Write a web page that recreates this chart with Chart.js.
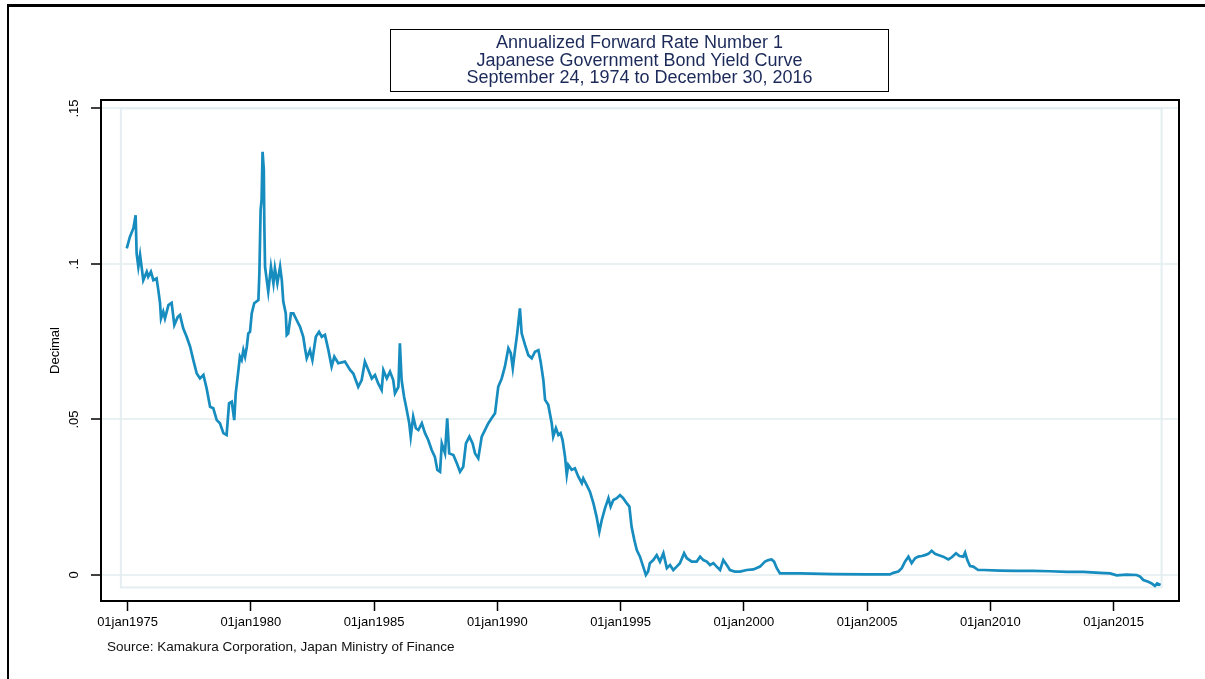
<!DOCTYPE html>
<html lang="en">
    <head>
        <meta charset="UTF-8" />
        <title>Annualized Forward Rate Number 1</title>
        <script src="https://cdn.jsdelivr.net/npm/chart.js"></script>
        <style>
            body { margin: 0; background: #fff; font-family: Arial, "Liberation Sans", sans-serif; }
            #wrap { position: relative; width: 1205px; height: 679px; overflow: hidden; }
            #frame { position: absolute; left: 7px; top: 4px; width: 1300px; height: 800px;
                     border-top: 3px solid #000; border-left: 2px solid #000; }
            #title { position: absolute; left: 390px; top: 29px; width: 499px; height: 63px;
                     border: 1.5px solid #000; text-align: center; color: #1c2a5a;
                     font-size: 18px; line-height: 17.5px; padding-top: 4px; box-sizing: border-box; }
            #source { position: absolute; left: 107px; top: 639px; font-size: 13.5px; color: #111; }
            canvas { position: absolute; left: 0; top: 0; }
        </style>
    </head>
    <body>
        <div id="wrap">
            <div id="frame"></div>
            <canvas id="chart" width="1205" height="679"></canvas>
            <div id="title">Annualized Forward Rate Number 1<br />Japanese Government Bond Yield Curve<br />September 24, 1974 to December 30, 2016</div>
            <div id="source">Source: Kamakura Corporation, Japan Ministry of Finance</div>
        </div>
        <script>
            // decimal years
            const years = [
                1974.97,1975.10,1975.24,1975.33,1975.37,1975.44,1975.51,1975.58,1975.64,1975.78,
                1975.84,1975.95,1976.05,1976.18,1976.25,1976.32,1976.36,1976.45,1976.52,1976.66,
                1976.79,1976.90,1977.04,1977.13,1977.26,1977.40,1977.54,1977.67,1977.81,1977.94,
                1978.08,1978.21,1978.35,1978.48,1978.62,1978.75,1978.89,1979.02,1979.12,1979.23,
                1979.33,1979.39,1979.50,1979.56,1979.63,1979.70,1979.77,1979.84,1979.90,1979.97,
                1980.04,1980.14,1980.31,1980.35,1980.40,1980.44,1980.48,1980.53,1980.55,1980.58,
                1980.65,1980.71,1980.82,1980.92,1980.98,1981.08,1981.19,1981.26,1981.32,1981.42,
                1981.46,1981.52,1981.63,1981.73,1981.86,1982.00,1982.13,1982.20,1982.27,1982.40,
                1982.50,1982.64,1982.77,1982.88,1983.01,1983.15,1983.28,1983.39,
                1983.55,1983.82,1984.03,1984.16,1984.36,1984.50,1984.63,1984.77,1984.91,1985.04,
                1985.17,1985.31,1985.38,1985.52,1985.65,1985.78,1985.85,1985.99,1986.05,1986.12,
                1986.22,1986.33,1986.43,1986.49,1986.59,1986.70,1986.80,1986.94,1987.07,1987.20,
                1987.34,1987.47,1987.57,1987.68,1987.75,1987.88,1987.97,1988.05,1988.22,1988.36,
                1988.49,1988.62,1988.73,1988.87,1989.00,1989.10,1989.23,1989.37,1989.50,1989.64,
                1989.77,1989.91,1990.04,1990.18,1990.31,1990.45,1990.55,1990.63,1990.72,1990.81,
                1990.92,1990.99,1991.13,1991.26,1991.40,1991.53,1991.67,1991.76,1991.87,1991.94,
                1992.07,1992.21,1992.27,1992.38,1992.48,1992.57,1992.65,1992.75,1992.82,1992.88,
                1993.02,1993.15,1993.29,1993.43,1993.49,1993.63,1993.76,1993.90,1994.03,1994.14,
                1994.24,1994.37,1994.51,1994.60,1994.71,1994.85,1994.98,1995.11,1995.25,1995.36,
                1995.45,1995.56,1995.66,1995.79,1995.92,1996.03,1996.12,1996.19,1996.33,1996.47,
                1996.60,1996.74,1996.88,1997.01,1997.14,1997.28,1997.41,1997.58,1997.69,1997.89,
                1998.09,1998.23,1998.36,1998.50,1998.63,1998.77,1998.90,1999.04,1999.17,1999.31,
                1999.44,1999.64,1999.85,2000.12,2000.39,2000.66,2000.86,2001.00,2001.13,2001.23,
                2001.34,2001.47,2002.28,2003.63,2004.99,2005.93,2006.07,2006.27,2006.41,2006.54,
                2006.68,2006.81,2006.95,2007.08,2007.22,2007.35,2007.49,2007.62,2007.76,2007.89,
                2008.09,2008.30,2008.44,2008.61,2008.75,2008.91,2008.98,2009.07,2009.18,2009.31,
                2009.51,2009.72,2010.39,2011.07,2011.74,2012.42,2013.10,2013.77,2014.45,2014.86,
                2015.13,2015.53,2015.94,2016.08,2016.21,2016.41,2016.55,2016.68,2016.77,2016.91
            ];
            // forward rate, decimal
            const rates = [
                0.1050,0.1088,0.1115,0.1157,0.1034,0.0991,0.1029,0.0986,0.0948,0.0975,
                0.0959,0.0975,0.0948,0.0954,0.0916,0.0874,0.0825,0.0847,0.0825,0.0868,
                0.0875,0.0804,0.0830,0.0836,0.0793,0.0766,0.0734,0.0691,0.0648,0.0632,
                0.0643,0.0600,0.0541,0.0536,0.0498,0.0488,0.0456,0.0450,0.0552,0.0557,
                0.0498,0.0584,0.0659,0.0702,0.0691,0.0723,0.0702,0.0734,0.0777,0.0782,
                0.0841,0.0874,0.0884,0.0970,0.1173,0.1206,0.1361,0.1302,0.1131,0.0991,
                0.0948,0.0911,0.0991,0.0938,0.0986,0.0938,0.0991,0.0948,0.0879,0.0841,
                0.0772,0.0777,0.0841,0.0841,0.0820,0.0798,0.0766,0.0729,0.0697,0.0723,
                0.0691,0.0766,0.0782,0.0766,0.0772,0.0723,0.0670,0.0702,
                0.0681,0.0686,0.0659,0.0648,0.0605,0.0627,0.0686,0.0659,0.0632,0.0643,
                0.0616,0.0595,0.0659,0.0632,0.0654,0.0627,0.0584,0.0605,0.0745,0.0627,
                0.0573,0.0530,0.0488,0.0445,0.0509,0.0472,0.0466,0.0488,0.0456,0.0434,
                0.0402,0.0380,0.0338,0.0332,0.0423,0.0391,0.0504,0.0391,0.0386,0.0359,
                0.0332,0.0348,0.0423,0.0445,0.0423,0.0391,0.0375,0.0445,0.0466,0.0488,
                0.0504,0.0520,0.0605,0.0632,0.0670,0.0729,0.0713,0.0665,0.0723,0.0777,
                0.0857,0.0777,0.0739,0.0707,0.0697,0.0718,0.0723,0.0686,0.0627,0.0563,
                0.0547,0.0488,0.0445,0.0472,0.0450,0.0456,0.0434,0.0380,0.0322,0.0354,
                0.0338,0.0343,0.0316,0.0295,0.0311,0.0289,0.0268,0.0231,0.0187,0.0139,
                0.0177,0.0214,0.0247,0.0220,0.0241,0.0247,0.0257,0.0247,0.0231,0.0220,
                0.0155,0.0113,0.0080,0.0059,0.0027,0.0000,0.0011,0.0038,0.0048,0.0064,
                0.0043,0.0070,0.0022,0.0032,0.0016,0.0027,0.0038,0.0070,0.0054,0.0043,
                0.0043,0.0059,0.0048,0.0043,0.0032,0.0038,0.0027,0.0016,0.0048,0.0032,
                0.0016,0.0011,0.0011,0.0016,0.0018,0.0027,0.0043,0.0048,0.0050,0.0043,
                0.0022,0.0005,0.0005,0.0003,0.0002,0.0002,0.0007,0.0011,0.0022,0.0043,
                0.0059,0.0038,0.0054,0.0059,0.0061,0.0064,0.0068,0.0078,0.0068,0.0064,
                0.0059,0.0050,0.0057,0.0070,0.0061,0.0059,0.0072,0.0048,0.0029,0.0027,
                0.0016,0.0016,0.0014,0.0013,0.0013,0.0012,0.0010,0.0010,0.0007,0.0005,
                -0.0001,0.0001,0.0000,-0.0005,-0.0016,-0.0022,-0.0027,-0.0035,-0.0027,-0.0032
            ];
            const xTicks = [1975, 1980, 1985, 1990, 1995, 2000, 2005, 2010, 2015];
            const yTicks = [0, 0.05, 0.1, 0.15];
            const yTickLabels = ["0", ".05", ".1", ".15"];
            const sampleStart = 1974.73; // September 24, 1974
            const sampleEnd = 2016.95;   // December 30, 2016

            const font = { family: "Arial, 'Liberation Sans', sans-serif", size: 13 };

            // light inner box round the sample period, black box round the plot
            const boxes = {
                id: "boxes",
                beforeDatasetsDraw(chart) {
                    const { ctx, scales: { x, y } } = chart;
                    const l = x.getPixelForValue(sampleStart);
                    const r = x.getPixelForValue(sampleEnd);
                    const t = y.getPixelForValue(0.15);
                    const b = y.getPixelForValue(-0.004);
                    ctx.save();
                    ctx.strokeStyle = "#e4eef1";
                    ctx.lineWidth = 2;
                    ctx.strokeRect(l, t, r - l, b - t);
                    ctx.restore();
                },
                afterDraw(chart) {
                    const { ctx, chartArea: a } = chart;
                    ctx.save();
                    ctx.strokeStyle = "#000";
                    ctx.lineWidth = 2;
                    ctx.strokeRect(a.left, a.top, a.right - a.left, a.bottom - a.top);
                    ctx.restore();
                },
            };

            new Chart(document.getElementById("chart"), {
                type: "line",
                data: {
                    datasets: [
                        {
                            label: "Forward rate",
                            data: years.map((yr, i) => ({ x: yr, y: rates[i] })),
                            borderColor: "#168cbf",
                            borderWidth: 2.7,
                            pointRadius: 0,
                            tension: 0,
                            fill: false,
                        },
                    ],
                },
                options: {
                    responsive: false,
                    animation: false,
                    layout: { padding: { top: 100, right: 26, bottom: 38, left: 0 } },
                    plugins: { legend: { display: false }, tooltip: { enabled: false } },
                    scales: {
                        x: {
                            type: "linear",
                            min: 1973.925,
                            max: 2017.657,
                            afterFit: (s) => { s.height = 40; },
                            afterBuildTicks: (s) => { s.ticks = xTicks.map((v) => ({ value: v })); },
                            grid: { drawOnChartArea: false, tickLength: 10, tickColor: "#000", tickWidth: 1.5 },
                            border: { color: "#000", width: 2 },
                            ticks: {
                                font: font,
                                color: "#000",
                                padding: 4,
                                maxRotation: 0,
                                autoSkip: false,
                                callback: (v) => "01jan" + v,
                            },
                        },
                        y: {
                            min: -0.00836,
                            max: 0.15273,
                            afterFit: (s) => { s.width = 101; },
                            afterBuildTicks: (s) => { s.ticks = yTicks.map((v) => ({ value: v })); },
                            grid: { color: "#e9f1f3", lineWidth: 2, tickLength: 10, tickColor: "#000", tickWidth: 1.5 },
                            border: { color: "#000", width: 2 },
                            ticks: {
                                font: font,
                                color: "#000",
                                padding: 8,
                                minRotation: 90,
                                maxRotation: 90,
                                crossAlign: "center",
                                callback: (v) => yTickLabels[yTicks.indexOf(v)] ?? "",
                            },
                            title: {
                                display: true,
                                text: "Decimal",
                                font: font,
                                color: "#000",
                                padding: { top: 48 },
                            },
                        },
                    },
                },
                plugins: [boxes],
            });
        </script>
    </body>
</html>
